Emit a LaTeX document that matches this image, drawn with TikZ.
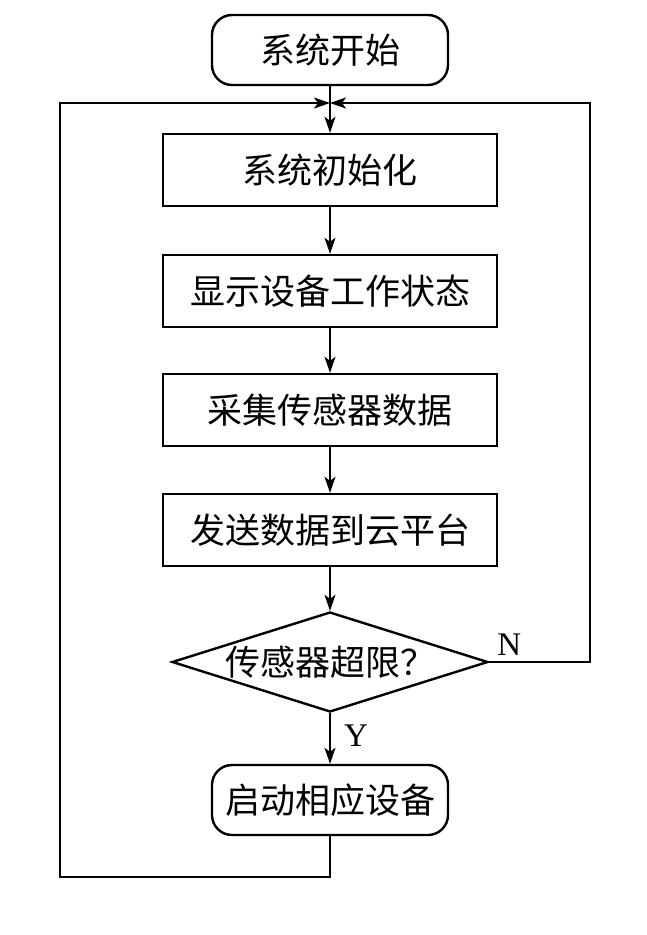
\documentclass[tikz,border=0pt]{standalone}
\usepackage{fontspec}
\setmainfont{Liberation Serif}
\newfontfamily\cjkfont{Noto Sans CJK SC}
\usetikzlibrary{shapes.geometric,arrows.meta}

\begin{document}
\begin{tikzpicture}[
        x=1pt, y=1pt,
        font=\fontsize{33}{38}\selectfont,
        stepbox/.style = {draw, line width=2.4pt, minimum width=334pt, minimum height=72pt, inner sep=0pt, font=\fontsize{35}{40}\selectfont\cjkfont},
        termbox/.style = {stepbox, rounded corners=20pt, minimum width=236pt, minimum height=70pt},
        testbox/.style = {draw, diamond, aspect=3.15, line width=2.4pt, minimum width=316pt, minimum height=100pt, inner sep=0pt, font=\fontsize{35}{40}\selectfont\cjkfont},
        flow/.style = {line width=1.8pt, -{Stealth[length=16pt,width=11pt,inset=4pt]}},
        line width=1.8pt
    ]
        \useasboundingbox (0,0) rectangle (646,-935);
        % boxes
        \node[termbox] (start) at (330,-50) {系统开始};
        \node[stepbox] (init) at (330,-170) {系统初始化};
        \node[stepbox] (show) at (330,-291) {显示设备工作状态};
        \node[stepbox] (read) at (330,-410) {采集传感器数据};
        \node[stepbox] (send) at (330,-530) {发送数据到云平台};
        \node[testbox] (test) at (330,-662) {传感器超限？};
        \node[termbox] (act) at (330,-800) {启动相应设备};
        % connectors
        \coordinate (join) at (330,-103);
        \draw (start) -- (join);
        \draw[flow] (join) -- (init);
        \draw[flow] (init) -- (show);
        \draw[flow] (show) -- (read);
        \draw[flow] (read) -- (send);
        \draw[flow] (send) -- (test);
        \draw[flow] (test) -- node[right, pos=0.45, xshift=10pt] (yes) {Y} (act);
        \draw[flow] (test.east) -- node[above, pos=0.2, yshift=2pt] (no) {N} (590,-662) -- (590,-103) -- (join);
        \draw[flow] (act) -- (330,-877) -- (60,-877) -- (60,-103) -- (join);
\end{tikzpicture}
\end{document}
